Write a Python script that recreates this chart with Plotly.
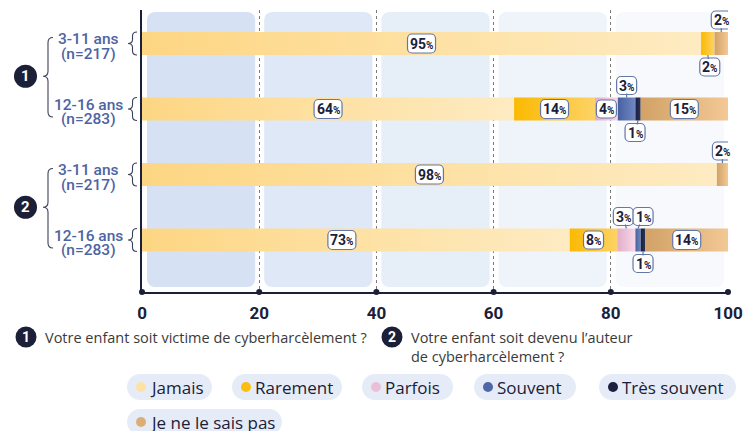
import plotly.graph_objects as go

# ---------------- data ----------------
age_groups = ["3-11 ans", "12-16 ans", "3-11 ans", "12-16 ans"]
samples = ["(n=217)", "(n=283)", "(n=217)", "(n=283)"]
categories = ["Jamais", "Rarement", "Parfois", "Souvent", "Très souvent", "Je ne le sais pas"]
jamais = [95.4, 63.5, 98.1, 73.0]
rarement = [2.3, 13.8, 0.0, 8.1]
parfois = [0.0, 3.9, 0.0, 3.1]
souvent = [0.0, 3.0, 0.0, 0.9]
tres_souvent = [0.0, 0.9, 0.0, 0.8]
ne_sait_pas = [2.3, 14.9, 1.9, 14.1]
x_ticks = [0, 20, 40, 60, 80, 100]
question_1 = "Votre enfant soit victime de cyberharcèlement ?"
question_2 = "Votre enfant soit devenu l’auteur<br>de cyberharcèlement ?"

series = [jamais, rarement, parfois, souvent, tres_souvent, ne_sait_pas]

# ---------------- styles ----------------
grad = {
    "Jamais": ("#fdd683", "#feebc2"),
    "Rarement": ("#fbb900", "#fdd366"),
    "Parfois": ("#e2aecb", "#f8d7e7"),
    "Souvent": ("#48609f", "#7089c4"),
    "Très souvent": ("#1a1f3a", "#2b3459"),
    "Je ne le sais pas": ("#d2a266", "#f2c894"),
}
legend_dot = {
    "Jamais": "#fde2a5", "Rarement": "#fbbd12", "Parfois": "#ecbfd8",
    "Souvent": "#4f68a8", "Très souvent": "#1c2140", "Je ne le sais pas": "#dcae76",
}
NAVY = "#1b2038"
SLATE = "#4d64a3"
BOX = "#6576a8"

W, H = 745, 431
L, R, T, B = 142, 17, 10, 139
PW, PH = W - L - R, H - T - B
BASE = H - B  # pixel y of x axis

row_y = [3, 2, 1, 0]
SPACING = 65.5
ROW0_PX = 240
ymin = -(BASE - ROW0_PX) / SPACING
ymax = (ROW0_PX - T) / SPACING
half = 11.5 / SPACING


def px_x(px):
    return (px - L) / PW


def px_y(py):
    return (BASE - py) / PH


def dx(x):
    return L + x / 100 * PW


def dy(y):
    return ROW0_PX - y * SPACING


def fmt_path(cmds, conv):
    out = []
    for c in cmds:
        op, pts = c[0], c[1:]
        coords = []
        for i in range(0, len(pts), 2):
            a, b = conv(pts[i], pts[i + 1])
            coords.append(f"{a:.5f},{b:.5f}")
        out.append(op + " " + " ".join(coords))
    return " ".join(out)


def paper_conv(a, b):
    return px_x(a), px_y(b)


def rrect_cmds(x0, y0, x1, y1, r):
    k = 0.5523 * r
    return [
        ("M", x0 + r, y0), ("L", x1 - r, y0),
        ("C", x1 - r + k, y0, x1, y0 + r - k, x1, y0 + r),
        ("L", x1, y1 - r),
        ("C", x1, y1 - r + k, x1 - r + k, y1, x1 - r, y1),
        ("L", x0 + r, y1),
        ("C", x0 + r - k, y1, x0, y1 - r + k, x0, y1 - r),
        ("L", x0, y0 + r),
        ("C", x0, y0 + r - k, x0 + r - k, y0, x0 + r, y0),
    ]


def rrect(x0, y0, x1, y1, r):
    return fmt_path(rrect_cmds(x0, y0, x1, y1, r), paper_conv) + " Z"


def rrect_px(x0, y0, x1, y1, r):
    return fmt_path(rrect_cmds(x0, y0, x1, y1, r), lambda a, b: (a, b)) + " Z"


def brace(xt, xa, y0, y1, ym, r):
    xm = (xt + xa) / 2
    cmds = [
        ("M", xa, y0), ("Q", xm, y0, xm, y0 + r), ("L", xm, ym - r),
        ("Q", xm, ym, xt, ym), ("Q", xm, ym, xm, ym + r), ("L", xm, y1 - r),
        ("Q", xm, y1, xa, y1),
    ]
    return fmt_path(cmds, paper_conv)


fig = go.Figure()
shapes = []
annotations = []

# background panels
for i in range(5):
    x0 = dx(x_ticks[i]) + 5
    x1 = dx(x_ticks[i + 1]) - 4
    t = i / 4
    c0 = (214, 226, 243)
    c1 = (247, 249, 253)
    col = "rgb(%d,%d,%d)" % tuple(round(a + (b - a) * t) for a, b in zip(c0, c1))
    shapes.append(dict(type="path", xref="paper", yref="paper", layer="below",
                       path=rrect(x0, 12, x1, 287, 8), fillcolor=col, line=dict(width=0)))

# stacked bars with gradient fill
for ri, y in enumerate(row_y):
    cum = 0.0
    for ci, cat in enumerate(categories):
        v = series[ci][ri]
        if v <= 0:
            continue
        x0, x1 = cum, cum + v
        c_left, c_right = grad[cat]
        fig.add_trace(go.Scatter(
            x=[x0, x1, x1, x0, x0], y=[y - half, y - half, y + half, y + half, y - half],
            mode="lines", fill="toself", line=dict(width=0, color="rgba(0,0,0,0)"),
            fillgradient=dict(type="horizontal", colorscale=[[0, c_left], [1, c_right]]),
            hoverinfo="skip", showlegend=False,
        ))
        cum = x1

# label placement: (row, category) -> (direction, x pixel offset)
outside = {
    (0, "Rarement"): ("down", 2), (0, "Je ne le sais pas"): ("up", 0),
    (1, "Souvent"): ("up", 0), (1, "Très souvent"): ("down", -3),
    (2, "Je ne le sais pas"): ("up", 0),
    (3, "Parfois"): ("up", -3), (3, "Souvent"): ("up", 5), (3, "Très souvent"): ("down", 0),
}
inside_offset = {(3, "Jamais"): -14}
LIFT = 12  # px from bar edge to label centre

for ri, y in enumerate(row_y):
    cum = 0.0
    for ci, cat in enumerate(categories):
        v = series[ci][ri]
        if v <= 0:
            continue
        mid = cum + v / 2
        cum += v
        n = int(v + 0.5)
        bw = 20 if n < 10 else 28
        bh = 18 if n < 10 else 19
        txt = f"<b>{n}</b><b style='font-size:10px'>%</b>"
        key = (ri, cat)
        if key in outside:
            d, off = outside[key]
            sgn = 1 if d == "up" else -1
            edge = y + sgn * half
            centre = edge + sgn * LIFT / SPACING
            annotations.append(dict(x=mid, y=edge, xref="x", yref="y", ax=off, ay=-sgn * LIFT,
                                    showarrow=True, arrowhead=0, arrowwidth=1.2, arrowcolor=BOX,
                                    text=txt, font=dict(family="Roboto", size=14, color=NAVY),
                                    borderpad=0, borderwidth=0))
        else:
            off = inside_offset.get(key, 0)
            centre = y
            annotations.append(dict(x=mid, y=y, xref="x", yref="y", xshift=off, showarrow=False,
                                    text=txt, font=dict(family="Roboto", size=14, color=NAVY)))
        shapes.append(dict(type="path", xref="x", yref="y", xsizemode="pixel", ysizemode="pixel",
                           xanchor=mid, yanchor=centre,
                           path=rrect_px(off - bw / 2, -bh / 2, off + bw / 2, bh / 2, 4.5),
                           fillcolor="white", line=dict(color=BOX, width=1.2)))

# tick dots on x axis
fig.add_trace(go.Scatter(x=x_ticks, y=[ymin] * len(x_ticks), mode="markers",
                         marker=dict(size=6, color=NAVY), cliponaxis=False,
                         hoverinfo="skip", showlegend=False))

# y labels and small braces
for ri, y in enumerate(row_y):
    py = dy(y)
    annotations.append(dict(x=px_x(88), y=px_y(py - 4.5), xref="paper", yref="paper",
                            text=age_groups[ri], showarrow=False, xanchor="center", yanchor="middle",
                            font=dict(family="Roboto", size=15.5, color=SLATE, weight=500)))
    annotations.append(dict(x=px_x(88), y=px_y(py + 10), xref="paper", yref="paper",
                            text=samples[ri], showarrow=False, xanchor="center", yanchor="middle",
                            font=dict(family="Roboto", size=15.5, color=SLATE, weight=500)))
    shapes.append(dict(type="path", xref="paper", yref="paper",
                       path=brace(128, 137, py - 11.5, py + 11.5, py, 4),
                       line=dict(color="#3c4256", width=1.1)))

# group braces and numbered circles
for g in range(2):
    p_top = dy(row_y[2 * g])
    p_bot = dy(row_y[2 * g + 1])
    pm = (p_top + p_bot) / 2
    shapes.append(dict(type="path", xref="paper", yref="paper",
                       path=brace(43, 53, p_top - 6, p_bot + 8, pm, 5),
                       line=dict(color="#3c4256", width=1.1)))
    shapes.append(dict(type="circle", xref="paper", yref="paper",
                       x0=px_x(14), x1=px_x(37), y0=px_y(pm - 11.5), y1=px_y(pm + 11.5),
                       fillcolor=NAVY, line=dict(width=0)))
    annotations.append(dict(x=px_x(25.5), y=px_y(pm), xref="paper", yref="paper",
                            xanchor="center", yanchor="middle",
                            text=f"<b>{g + 1}</b>", showarrow=False,
                            font=dict(family="Roboto", size=15, color="white")))

# footnotes
for (cx, tx, txt, num) in [(26, 43, question_1, 1), (392, 409, question_2, 2)]:
    shapes.append(dict(type="circle", xref="paper", yref="paper",
                       x0=px_x(cx - 10.5), x1=px_x(cx + 10.5), y0=px_y(337 - 10.5), y1=px_y(337 + 10.5),
                       fillcolor=NAVY, line=dict(width=0)))
    annotations.append(dict(x=px_x(cx), y=px_y(337), xref="paper", yref="paper",
                            xanchor="center", yanchor="middle",
                            text=f"<b>{num}</b>", showarrow=False,
                            font=dict(family="Roboto", size=14, color="white")))
    annotations.append(dict(x=px_x(tx), y=px_y(326), xref="paper", yref="paper",
                            text=txt, showarrow=False, xanchor="left", yanchor="top", align="left",
                            font=dict(family="Open Sans", size=14.5, color="#3a3a3a")))

# legend pills
legend_items = [
    ("Jamais", 127, 212, 387), ("Rarement", 232, 342, 387), ("Parfois", 362, 453, 387),
    ("Souvent", 474, 576, 387), ("Très souvent", 599, 736, 387),
    ("Je ne le sais pas", 127, 282, 422),
]
for name, x0, x1, yc in legend_items:
    shapes.append(dict(type="path", xref="paper", yref="paper",
                       path=rrect(x0, yc - 13, x1, yc + 13, 13),
                       fillcolor="#e6ecf7", line=dict(width=0)))
    shapes.append(dict(type="circle", xref="paper", yref="paper",
                       x0=px_x(x0 + 9), x1=px_x(x0 + 19), y0=px_y(yc + 5), y1=px_y(yc - 5),
                       fillcolor=legend_dot[name], line=dict(width=0)))
    annotations.append(dict(x=px_x(x0 + 21), y=px_y(yc), xref="paper", yref="paper",
                            text=name, showarrow=False, xanchor="left", yanchor="middle",
                            font=dict(family="Open Sans", size=17, color=NAVY)))

fig.update_layout(
    width=W, height=H, margin=dict(l=L, r=R, t=T, b=B, autoexpand=False),
    paper_bgcolor="white", plot_bgcolor="white",
    shapes=shapes, annotations=annotations, showlegend=False,
    xaxis=dict(range=[0, 100], tickvals=x_ticks, showgrid=True, griddash="dot",
               gridcolor="#7a7a7a", gridwidth=1, zeroline=False, showline=True,
               linecolor=NAVY, linewidth=1.5, ticks="", fixedrange=True, ticklabelstandoff=5,
               tickfont=dict(family="Roboto", size=17, color=NAVY, weight="bold")),
    yaxis=dict(range=[ymin, ymax], showticklabels=False, showgrid=False, zeroline=False,
               showline=True, linecolor=NAVY, linewidth=1.5, fixedrange=True),
)

fig.write_html("out.html", config={"displayModeBar": False},
               post_script="document.body.style.margin='0';document.body.style.overflow='hidden';")
